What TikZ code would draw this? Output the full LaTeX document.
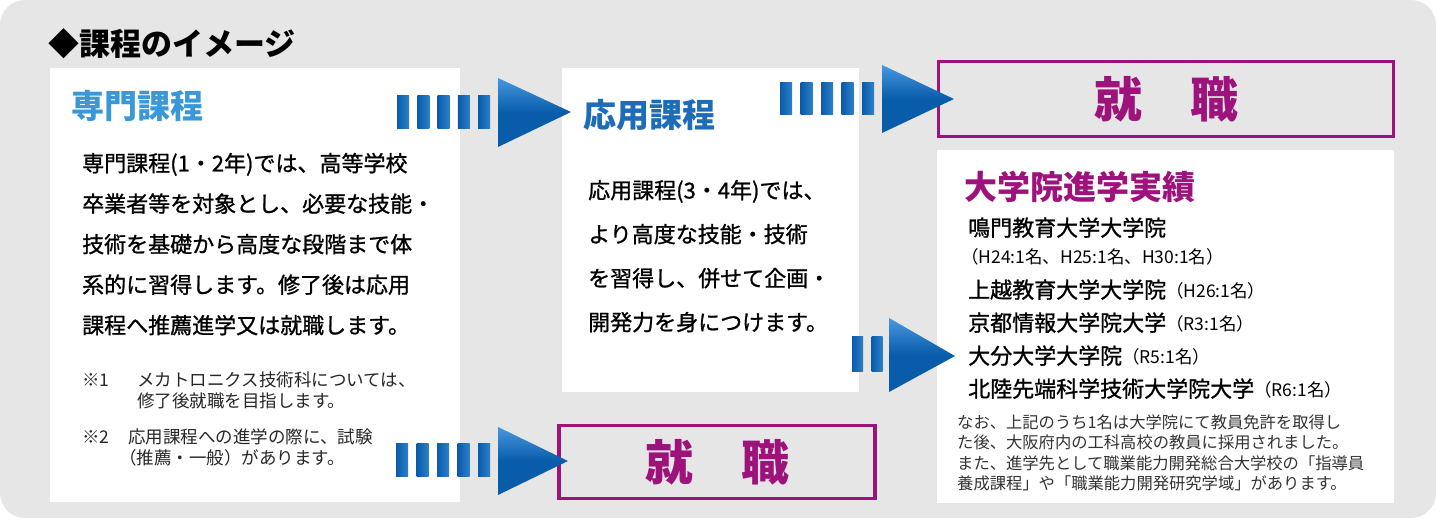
\documentclass[tikz,border=0pt]{standalone}
\usepackage{fontspec}
\usepackage{tikz}

\newfontfamily\jp{Noto Sans CJK JP}
\newfontfamily\jpm[FakeBold=1]{Noto Sans CJK JP}
\newcommand{\nendo}[1]{{\jp\fontsize{17.5}{17.5}\selectfont #1}}

\definecolor{bggray}{RGB}{230,230,230}
\definecolor{senblue}{RGB}{58,152,216}
\definecolor{ouyblue}{RGB}{28,108,184}
\definecolor{shumag}{RGB}{158,18,124}
\definecolor{arrdark}{RGB}{8,92,170}
\definecolor{arrlight}{RGB}{72,152,222}

\begin{document}
\begin{tikzpicture}[x = 1pt, y = -1pt,
                    panel/.style = {fill = white, anchor = north west, inner sep = 0pt},
                    jobbox/.style = {draw = shumag, line width = 3.5pt, inner sep = 0pt, text = shumag,
                                     font = \jp\bfseries\fontsize{48}{48}\selectfont},
                    head/.style = {anchor = west, inner sep = 0pt, font = \jp\bfseries\fontsize{33}{33}\selectfont},
                    body/.style = {anchor = base west, inner sep = 0pt, align = left, font = \jpm\fontsize{22}{40.5}\selectfont},
                    item/.style = {anchor = base west, inner sep = 0pt, font = \jpm\fontsize{22}{22}\selectfont},
                    note/.style = {anchor = base west, inner sep = 0pt, align = left, text = black!85,
                                   font = \jp\fontsize{17.5}{21}\selectfont},
                    bar/.style = {left color = arrdark, right color = arrlight!60!arrdark},
                    tip/.style = {top color = arrlight, bottom color = arrdark, middle color = arrdark}]
  \useasboundingbox (0,0) rectangle (1436,526);
  \fill [bggray, rounded corners = 25pt] (0,0) rectangle (1436,518);

  % white panels
  \node [panel, minimum width = 410pt, minimum height = 434pt] (P1) at (50,68) {};
  \node [panel, minimum width = 297pt, minimum height = 324pt] (P2) at (562,68) {};
  \node [panel, minimum width = 457pt, minimum height = 353pt] (P3) at (937,150) {};

  % job boxes
  \node [jobbox, minimum width = 455pt, minimum height = 75pt] (J1) at (1166,99) {就　職};
  \node [jobbox, minimum width = 316pt, minimum height = 73pt] (J2) at (717,462) {就　職};

  % arrows
  \foreach \i in {0,...,4} \shade [bar] (397+20.3*\i,96) rectangle ++(12,33);
  \shade [tip] (498,78) -- (571,112) -- (498,147) -- cycle;
  \foreach \i in {0,...,4} \shade [bar] (780+20.5*\i,83) rectangle ++(12,32);
  \shade [tip] (882,65) -- (954,99) -- (882,133) -- cycle;
  \foreach \i in {0,1} \shade [bar] (852+19.5*\i,337) rectangle ++(11,35);
  \shade [tip] (889,318) -- (955,356) -- (889,392) -- cycle;
  \foreach \i in {0,...,4} \shade [bar] (396+20.5*\i,444) rectangle ++(12,33);
  \shade [tip] (498,427) -- (568,461) -- (498,495) -- cycle;

  % title
  \node [anchor = west, inner sep = 0pt, font = \jp\bfseries\fontsize{31}{31}\selectfont] (TT) at (48,44) {◆課程のイメージ};

  % senmon (base = last line)
  \node [head, text = senblue] (H1) at (71,106) {専門課程};
  \node [body] (B1) at (82,333.5) {専門課程(1・2年)では、高等学校\\卒業者等を対象とし、必要な技能・\\技術を基礎から高度な段階まで体\\系的に習得します。修了後は応用\\課程へ推薦進学又は就職します。};
  \node [note] (N1m) at (82,387) {※1};
  \node [note] (N1) at (137,408) {メカトロニクス技術科については、\\修了後就職を目指します。};
  \node [note] (N2m) at (82,444) {※2};
  \node [note] (N2) at (128,444) {応用課程への進学の際に、試験};
  \node [note] (N3) at (119,465) {（推薦・一般）があります。};

  % ouyou
  \node [head, text = ouyblue] (H2) at (583,115) {応用課程};
  \node [body, font = \jpm\fontsize{22}{44}\selectfont] (B2) at (588,330.5) {応用課程(3・4年)では、\\より高度な技能・技術\\を習得し、併せて企画・\\開発力を身につけます。};

  % daigakuin
  \node [head, text = shumag] (H3) at (964,187) {大学院進学実績};
  \node [item] (U1) at (968,236) {鳴門教育大学大学院};
  \node [item] (U1y) at (961,264) {\nendo{（H24:1名、H25:1名、H30:1名）}};
  \node [item] (U2) at (968,298) {上越教育大学大学院\nendo{（H26:1名）}};
  \node [item] (U3) at (968,331) {京都情報大学院大学\nendo{（R3:1名）}};
  \node [item] (U4) at (968,364) {大分大学大学院\nendo{（R5:1名）}};
  \node [item] (U5) at (968,397) {北陸先端科学技術大学院大学\nendo{（R6:1名）}};
  \node [note, text = black!80, font = \jp\fontsize{16.3}{20.5}\selectfont] (R1) at (957,490) {なお、上記のうち1名は大学院にて教員免許を取得し\\た後、大阪府内の工科高校の教員に採用されました。\\また、進学先として職業能力開発総合大学校の「指導員\\養成課程」や「職業能力開発研究学域」があります。};
\end{tikzpicture}
\end{document}
